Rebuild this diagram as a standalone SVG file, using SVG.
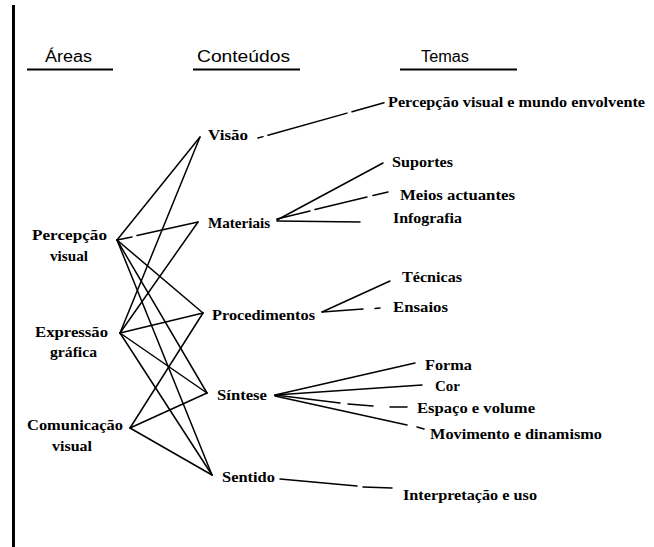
<svg xmlns="http://www.w3.org/2000/svg" width="654" height="547" viewBox="0 0 654 547">
<style>
.h{font-family:"Liberation Sans",Arial,sans-serif;font-size:16px;fill:#000}
.t{font-family:"Liberation Serif","Times New Roman",serif;font-size:15px;font-weight:bold;fill:#000}
.ul{stroke:#000;stroke-width:2}
.c{stroke:#000;stroke-width:1.5;fill:none;stroke-linecap:round}
</style>
<rect width="654" height="547" fill="#fff"/>
<rect x="12" y="5" width="3" height="542" fill="#000"/>
<g id="headers">
<text class="h" x="45" y="62" textLength="47" lengthAdjust="spacingAndGlyphs">Áreas</text>
<line class="ul" x1="27" y1="69.5" x2="113" y2="69.5"/>
<text class="h" x="197" y="62" textLength="93" lengthAdjust="spacingAndGlyphs">Conteúdos</text>
<line class="ul" x1="193" y1="69.5" x2="300" y2="69.5"/>
<text class="h" x="421" y="62" textLength="48" lengthAdjust="spacingAndGlyphs">Temas</text>
<line class="ul" x1="400" y1="69.5" x2="517" y2="69.5"/>
</g>
<g id="connectors">
<!-- areas to contents -->
<path class="c" d="M117,240 L200,137"/>
<path class="c" d="M117,240 L132,237 M137,235.5 L198,222"/>
<path class="c" d="M117,240 L203,313"/>
<path class="c" d="M117,240 L207,393"/>
<path class="c" d="M117,240 L212,475"/>
<path class="c" d="M120,333 L200,137"/>
<path class="c" d="M120,333 L198,222"/>
<path class="c" d="M120,333 L203,313"/>
<path class="c" d="M120,333 L207,393"/>
<path class="c" d="M120,333 L212,475"/>
<path class="c" d="M130,428 L203,313"/>
<path class="c" d="M130,428 L207,393"/>
<path class="c" d="M130,428 L212,475"/>
<!-- contents to themes -->
<path class="c" d="M258,138 L263,136.6 M268,135.2 L347,113.1 M352,111.7 L384,102.8"/>
<path class="c" d="M277,220 L383,163"/>
<path class="c" d="M277,219 L310,211 M315,209.5 L367,197 M373,195.5 L388,192"/>
<path class="c" d="M277,221 L360,222"/>
<path class="c" d="M322,312 L390,281"/>
<path class="c" d="M322,312 L363,309 M375,308.5 L380,308"/>
<path class="c" d="M275,395 L415,363"/>
<path class="c" d="M275,395 L422,385"/>
<path class="c" d="M275,395 L340,403 M348,404 L373,406 M390,407 L407,407"/>
<path class="c" d="M275,396 L407,425 M417,427 L424,429"/>
<path class="c" d="M280,479 L357,486 M363,487 L392,488"/>
</g>
<g id="area-percepcao">
<text class="t" x="32" y="240" textLength="75" lengthAdjust="spacingAndGlyphs">Percepção</text>
<text class="t" x="50" y="261" textLength="38" lengthAdjust="spacingAndGlyphs">visual</text>
</g>
<g id="area-expressao">
<text class="t" x="35" y="337" textLength="73" lengthAdjust="spacingAndGlyphs">Expressão</text>
<text class="t" x="50" y="357" textLength="47" lengthAdjust="spacingAndGlyphs">gráfica</text>
</g>
<g id="area-comunicacao">
<text class="t" x="27" y="430" textLength="96" lengthAdjust="spacingAndGlyphs">Comunicação</text>
<text class="t" x="52" y="451" textLength="40" lengthAdjust="spacingAndGlyphs">visual</text>
</g>
<g id="c-visao"><text class="t" x="208" y="140" textLength="40" lengthAdjust="spacingAndGlyphs">Visão</text></g>
<g id="c-materiais"><text class="t" x="208" y="228" textLength="62" lengthAdjust="spacingAndGlyphs">Materiais</text></g>
<g id="c-procedimentos"><text class="t" x="212" y="320" textLength="103" lengthAdjust="spacingAndGlyphs">Procedimentos</text></g>
<g id="c-sintese"><text class="t" x="217" y="400" textLength="50" lengthAdjust="spacingAndGlyphs">Síntese</text></g>
<g id="c-sentido"><text class="t" x="222" y="482" textLength="53" lengthAdjust="spacingAndGlyphs">Sentido</text></g>
<g id="t-pvme"><text class="t" x="388" y="107" textLength="257" lengthAdjust="spacingAndGlyphs">Percepção visual e mundo envolvente</text></g>
<g id="t-suportes"><text class="t" x="392" y="167" textLength="61" lengthAdjust="spacingAndGlyphs">Suportes</text></g>
<g id="t-meios"><text class="t" x="400" y="200" textLength="115" lengthAdjust="spacingAndGlyphs">Meios actuantes</text></g>
<g id="t-infografia"><text class="t" x="393" y="223" textLength="69" lengthAdjust="spacingAndGlyphs">Infografia</text></g>
<g id="t-tecnicas"><text class="t" x="402" y="282" textLength="60" lengthAdjust="spacingAndGlyphs">Técnicas</text></g>
<g id="t-ensaios"><text class="t" x="393" y="312" textLength="55" lengthAdjust="spacingAndGlyphs">Ensaios</text></g>
<g id="t-forma"><text class="t" x="425" y="370" textLength="47" lengthAdjust="spacingAndGlyphs">Forma</text></g>
<g id="t-cor"><text class="t" x="435" y="391" textLength="25" lengthAdjust="spacingAndGlyphs">Cor</text></g>
<g id="t-espaco"><text class="t" x="417" y="413" textLength="118" lengthAdjust="spacingAndGlyphs">Espaço e volume</text></g>
<g id="t-movimento"><text class="t" x="430" y="439" textLength="172" lengthAdjust="spacingAndGlyphs">Movimento e dinamismo</text></g>
<g id="t-interpretacao"><text class="t" x="403" y="500" textLength="134" lengthAdjust="spacingAndGlyphs">Interpretação e uso</text></g>
</svg>
